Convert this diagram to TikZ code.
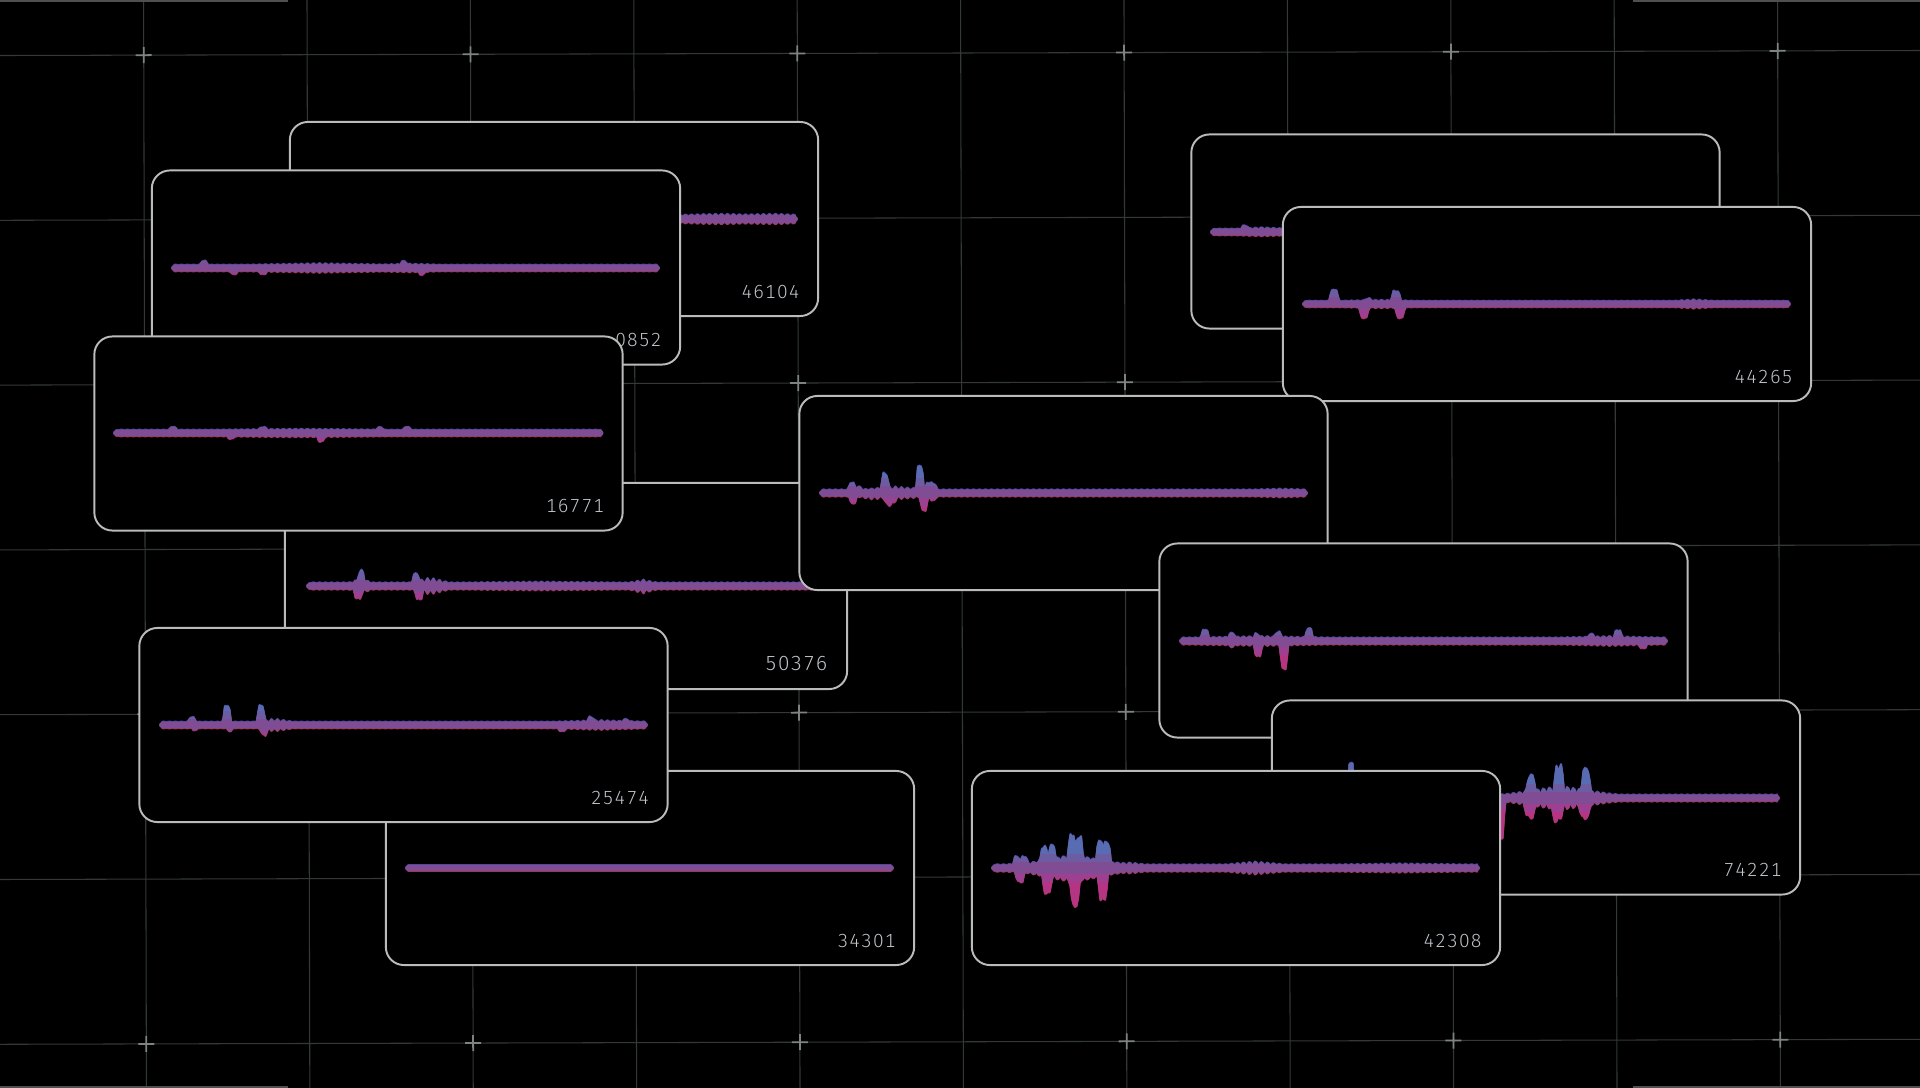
\documentclass[tikz,border=0pt]{standalone}
\usepackage{fontspec}
\newfontfamily\numfont{Fira Sans Light}[LetterSpace=6, Numbers={Lining,Monospaced}]
\usetikzlibrary{positioning}

\definecolor{cardline}{RGB}{185,188,186}
\definecolor{numgray}{RGB}{192,197,202}
\definecolor{gridgray}{RGB}{52,56,56}
\definecolor{markgray}{RGB}{125,130,130}
\definecolor{edgegray}{RGB}{78,80,80}
\definecolor{wavetop}{RGB}{88,108,180}
\definecolor{waveup}{RGB}{108,92,162}
\definecolor{wavemid}{RGB}{128,76,148}
\definecolor{wavedown}{RGB}{158,64,145}
\definecolor{wavebot}{RGB}{182,52,132}
\definecolor{fringeblue}{RGB}{70,74,160}
\definecolor{fringered}{RGB}{160,52,80}

\tikzset{
  card/.style={draw=cardline, fill=black, line width=0.55pt, rounded corners=0.18cm,
    minimum width=5.28cm, minimum height=1.94cm, inner sep=0pt},
  bigcard/.style={card, minimum width=5.62cm, minimum height=2.06cm},
  numlabel/.style={font=\numfont\fontsize{5.4}{6}\selectfont, text=numgray, inner sep=0pt},
  wave/.style={line width=0.02cm, line join=round},
  gridline/.style={draw=gridgray, line width=0.3pt},
  gridmark/.style={draw=markgray, line width=0.5pt},
}

% waveform: start x, end x, centre y, ripple, upper and lower envelope
\newcommand\wave[6]{%
  \pgfmathtruncatemacro\wvn{(#2-#1)/1.5}%
  \pgfmathsetmacro\wvx{#1+1.5*\wvn}%
  \pgfmathsetmacro\wvt{#3-2}\pgfmathsetmacro\wvd{#3+2}%
  \xdef\wavepts{(#1,\wvt)}\xdef\wavebk{(#1,\wvd)}%
  \foreach \i in {1,...,\wvn}{%
    \pgfmathsetmacro\x{#1+1.5*\i}%
    \pgfmathsetmacro\wvb{#4*bd(\x,6)}%
    \pgfmathsetmacro\wvt{#3-2-\wvb-(#5)}%
    \pgfmathsetmacro\wvd{#3+2+\wvb+(#6)}%
    \xdef\wavepts{\wavepts -- (\x,\wvt)}%
    \xdef\wavebk{(\x,\wvd) -- \wavebk}}%
  \xdef\wavefull{\wavepts -- \wavebk -- cycle}%
  \begin{scope}[yshift=0.008cm] \path[wave, fill=fringeblue, draw=fringeblue] \wavefull; \end{scope}
  \begin{scope}[yshift=-0.008cm] \path[wave, fill=fringered, draw=fringered] \wavefull; \end{scope}
  \foreach \lo/\hi/\col in {-80/-14/wavetop,-14/-6/waveup,-6/6/wavemid,6/14/wavedown,14/80/wavebot}{%
    \begin{scope}
      \clip (#1-10,#3+\lo) rectangle (#2+10,#3+\hi);
      \path[wave, fill=\col, draw=\col] \wavefull;
      \fill[\col] (#1,#3) circle[radius=0.03cm] (\wvx,#3) circle[radius=0.03cm];
    \end{scope}}%
}

\begin{document}
\begin{tikzpicture}[x=0.01cm, y=-0.01cm,
    declare function={sp(\q,\m,\w)=max(0,1-abs(\q-\m)/\w);
      tw(\q,\m,\w)=min(1,2*sp(\q,\m,\w));
      bd(\q,\p)=0.5*(1+sin(360*mod(\q,\p)/\p));
      ms(\q,\m,\w,\p)=sp(\q,\m,\w)*bd(\q,\p);}]
  \path[use as bounding box, fill=black] (0,0) rectangle (1920,1088);
  \clip (0,0) rectangle (1920,1088);

  % background grid
  \begin{scope}[rotate around={0.15:(960,544)}]
    \foreach \k in {0,...,10}
      \draw[gridline] (145+163.4*\k,-30) -- (145+163.4*\k,1120);
    \foreach \j in {0,...,6}
      \draw[gridline] (-30,53+164.8*\j) -- (1950,53+164.8*\j);
    \foreach \k in {0,2,...,10}
      \foreach \j in {0,2,4,6}
        \draw[gridmark] (137+163.4*\k,53+164.8*\j) -- ++(16,0)
          (145+163.4*\k,45+164.8*\j) -- ++(0,16);
  \end{scope}
  \draw[gridline, draw=edgegray] (0,1) -- (288,1) (1633,1) -- (1920,1)
    (0,1087) -- (288,1087) (1633,1087) -- (1920,1087);

  % top right
  \node[card] (cA) at (1455.5,231.5) {};
  \wave{1213}{1698}{232}{0.6}{3*tw(\x,1245,4)+1.5*ms(\x,1262,25,6)}{1*ms(\x,1262,25,6)}
  \node[card] (c44265) at (1547,304) {};
  \wave{1305}{1789}{304}{0.5}
    {11*tw(\x,1334,5)+2*tw(\x,1368,4)+9.5*tw(\x,1396,5)+1*ms(\x,1380,40,6)+1.5*ms(\x,1694,20,6)}
    {10.5*tw(\x,1364,5)+10.5*tw(\x,1400,5)+1*ms(\x,1380,40,6)+1.5*ms(\x,1694,20,6)}
  \node[numlabel, above left=0.18cm and 0.19cm of c44265.south east] (n44265) {44265};

  % top left
  \node[card] (c46104) at (554,219) {};
  \wave{312}{796}{219}{1.2}{1.5*ms(\x,720,50,6)+1.5*ms(\x,775,30,6)}{1.5*ms(\x,720,50,6)+1.5*ms(\x,775,30,6)}
  \node[numlabel, above left=0.18cm and 0.19cm of c46104.south east] (n46104) {46104};
  \node[card] (c10852) at (416,267.5) {};
  \wave{174}{658}{268}{0.7}
    {4*tw(\x,204,4)+3*tw(\x,404,4)+1.5*ms(\x,320,70,6)+1*ms(\x,410,30,6)}
    {3*tw(\x,234,4)+3*tw(\x,263,4)+3*tw(\x,422,4)+1.5*ms(\x,320,70,6)+1*ms(\x,410,30,6)}
  \node[numlabel, above left=0.18cm and 0.19cm of c10852.south east] (n10852) {0852};
  \node[bigcard] (c50376) at (566,586) {};
  \wave{309}{824}{586}{0.8}
    {9*tw(\x,361,4)+4*ms(\x,361,12,6)+8*tw(\x,416,4)+5*ms(\x,430,20,6)+3*ms(\x,643,14,6)+1*ms(\x,540,80,6)}
    {8*tw(\x,358,4)+4*ms(\x,361,12,6)+9*tw(\x,419,4)+5*ms(\x,430,20,6)+4*ms(\x,643,14,6)+1*ms(\x,540,80,6)}
  \node[numlabel, font=\numfont\fontsize{5.8}{6}\selectfont,
    above left=0.184cm and 0.2cm of c50376.south east] (n50376) {50376};
  \node[card] (c16771) at (358.5,433.5) {};
  \wave{116}{601}{433}{0.6}
    {3*tw(\x,173,4)+2.5*tw(\x,263,4)+2.5*tw(\x,380,4)+3*tw(\x,407,4)+1*ms(\x,300,90,6)}
    {2.5*tw(\x,231,4)+5*tw(\x,321,4)+1*ms(\x,300,90,6)}
  \node[numlabel, above left=0.18cm and 0.19cm of c16771.south east] (n16771) {16771};

  % centre and bottom right
  \node[card] (c24103) at (1063.5,493) {};
  \wave{822}{1305}{493}{0.8}
    {7*tw(\x,852,4)+3*tw(\x,859,3)+15*tw(\x,885,4)+23*tw(\x,920,4)+7*tw(\x,929,4)+6*tw(\x,934,3)+3*ms(\x,895,35,6)+1*ms(\x,1280,25,6)}
    {7*tw(\x,853,4)+7*tw(\x,888,4)+5*tw(\x,893,3)+14*tw(\x,924,4)+4*tw(\x,933,4)+3*ms(\x,895,35,6)+2*ms(\x,870,15,6)+1*ms(\x,1280,25,6)}
  \node[numlabel, above left=0.18cm and 0.19cm of c24103.south east] (n24103) {24103};
  \node[card] (cB) at (1423.5,640.5) {};
  \wave{1182}{1665}{641}{0.8}
    {8*tw(\x,1205,4)+4*tw(\x,1232,4)+3*tw(\x,1257,3)+5*tw(\x,1278,4)+9*tw(\x,1309,4)+1.5*ms(\x,1260,70,6)+3*tw(\x,1591,4)+7*tw(\x,1618,4)+1.5*ms(\x,1610,50,6)}
    {11.5*tw(\x,1258,4)+24*tw(\x,1284,4)+2*tw(\x,1232,3)+1.5*ms(\x,1260,70,6)+4*tw(\x,1643,4)+1.5*ms(\x,1610,50,6)}
  \node[card] (c74221) at (1536,797.5) {};
  \wave{1294}{1778}{798}{0.8}
    {31*tw(\x,1351,3)+16*tw(\x,1531,5)+22*tw(\x,1559,5)+22*tw(\x,1586,5)+6*ms(\x,1560,60,6)+3*sp(\x,1560,50)+2*ms(\x,1380,50,6)}
    {37*tw(\x,1502,2.5)+13*tw(\x,1530,6)+13*tw(\x,1557,6)+13*tw(\x,1585,6)+6*ms(\x,1560,60,6)+3*sp(\x,1560,50)+2*ms(\x,1380,50,6)}
  \node[numlabel, above left=0.18cm and 0.19cm of c74221.south east] (n74221) {74221};
  \node[card] (c42308) at (1236,868) {};
  \wave{994}{1478}{868}{1}
    {7.7*tw(\x,1017,4)+7.7*tw(\x,1024,4)+14*tw(\x,1044,4)+14*tw(\x,1052,4)+22*tw(\x,1072,4)+20*tw(\x,1079,4)+19*tw(\x,1100,4)+19*tw(\x,1107,4)+7*sp(\x,1075,50)+3*ms(\x,1065,60,6)+2*ms(\x,1130,15,6)+3*ms(\x,1255,30,6)+1*ms(\x,1400,60,6)}
    {10*tw(\x,1020,5)+17*tw(\x,1047,5)+25*tw(\x,1075,5)+24*tw(\x,1103,5)+8*sp(\x,1075,50)+3*ms(\x,1065,60,6)+2*ms(\x,1130,15,6)+3*ms(\x,1255,30,6)+1*ms(\x,1400,60,6)}
  \node[numlabel, above left=0.18cm and 0.19cm of c42308.south east] (n42308) {42308};

  % bottom left
  \node[card] (c34301) at (650,868) {};
  \wave{408}{892}{868}{0.2}{0}{0}
  \node[numlabel, above left=0.18cm and 0.19cm of c34301.south east] (n34301) {34301};
  \node[card] (c25474) at (403.5,725) {};
  \wave{162}{645}{725}{0.7}
    {4.6*tw(\x,192,4)+16*tw(\x,227,4)+16*tw(\x,261,4)+3*ms(\x,275,18,6)+4*tw(\x,591,4)+2*tw(\x,626,4)+1.5*ms(\x,600,45,6)}
    {2*tw(\x,195,3)+3*tw(\x,230,3)+6*tw(\x,264,4)+3*ms(\x,275,18,6)+3*tw(\x,562,4)+1.5*ms(\x,600,45,6)}
  \node[numlabel, above left=0.18cm and 0.19cm of c25474.south east] (n25474) {25474};
\end{tikzpicture}
\end{document}
